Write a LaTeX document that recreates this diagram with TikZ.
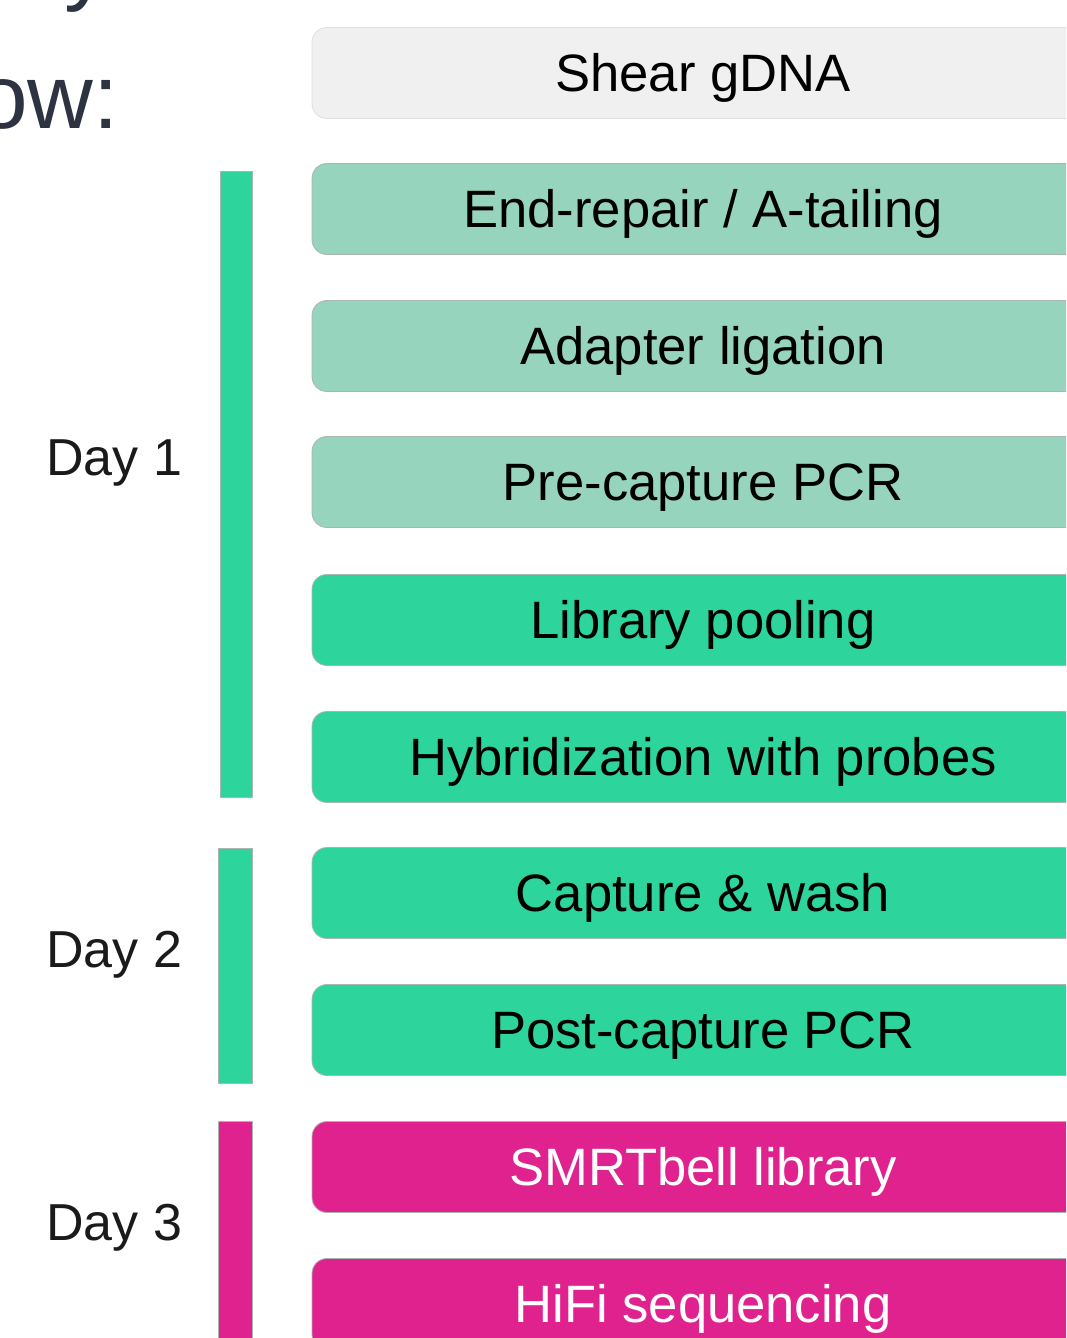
\documentclass[tikz,border=0pt]{standalone}
\usepackage{fontspec}
\setmainfont{Liberation Sans}
\definecolor{cGray}{HTML}{F0F0F0}
\definecolor{cGrayB}{HTML}{DEDEDE}
\definecolor{cTeal}{HTML}{97D4BE}
\definecolor{cGreen}{HTML}{2DD49C}
\definecolor{cMag}{HTML}{E0228F}
\definecolor{cEdge}{HTML}{A9B5B0}
\definecolor{cDark}{HTML}{2D3340}
\definecolor{cDay}{HTML}{1A1A1A}
\tikzset{
  stepbox/.style={rectangle, rounded corners=15pt, minimum width=782pt, minimum height=91pt,
    inner sep=0pt, text height=37.7pt, text depth=0pt, line width=0.8pt,
    font=\fontsize{52.6}{60}\selectfont},
  graybox/.style={stepbox, fill=cGray, draw=cGrayB, text=black},
  tealbox/.style={stepbox, fill=cTeal, draw=cEdge, text=black},
  greenbox/.style={stepbox, fill=cGreen, draw=cEdge, text=black},
  magbox/.style={stepbox, fill=cMag, draw=cEdge, text=white},
  daybar/.style={line width=0.6pt, draw=cEdge},
  daylabel/.style={anchor=base west, inner sep=0pt, text=cDay, font=\fontsize{52}{60}\selectfont},
}
\begin{document}
\begin{tikzpicture}[x=1pt,y=-1pt]
\useasboundingbox (0,0) rectangle (1066,1338);
\clip (0,0) rectangle (1066,1338);
% fragments of heading text
\node[anchor=base east, inner sep=0pt, text=cDark, font=\fontsize{91}{110}\selectfont] (ow) at (119,128) {ow:};
\node[anchor=base west, inner sep=0pt, text=cDark, font=\fontsize{91}{110}\selectfont] (ytail) at (64,-6) {y};
% day bars
\fill[cGreen] (220,171) rectangle (252,797);
\draw[daybar] (220,171) rectangle (252,797);
\fill[cGreen] (218,848) rectangle (252,1083);
\draw[daybar] (218,848) rectangle (252,1083);
\fill[cMag] (218,1121) rectangle (252,1345);
\draw[daybar] (218,1121) rectangle (252,1345);
% day labels
\node[daylabel] (d1) at (46,475) {Day 1};
\node[daylabel] (d2) at (46,967) {Day 2};
\node[daylabel] (d3) at (46,1240) {Day 3};
% step boxes
\node[graybox]  (s1)  at (703,73)   {Shear gDNA};
\node[tealbox]  (s2)  at (703,209)  {End-repair / A-tailing};
\node[tealbox]  (s3)  at (703,346)  {Adapter ligation};
\node[tealbox]  (s4)  at (703,482)  {Pre-capture PCR};
\node[greenbox] (s5)  at (703,620)  {Library pooling};
\node[greenbox] (s6)  at (703,757)  {Hybridization with probes};
\node[greenbox] (s7)  at (703,893)  {Capture \& wash};
\node[greenbox] (s8)  at (703,1030) {Post-capture PCR};
\node[magbox]   (s9)  at (703,1167) {SMRTbell library};
\node[magbox]   (s10) at (703,1304) {HiFi sequencing};
\end{tikzpicture}
\end{document}
